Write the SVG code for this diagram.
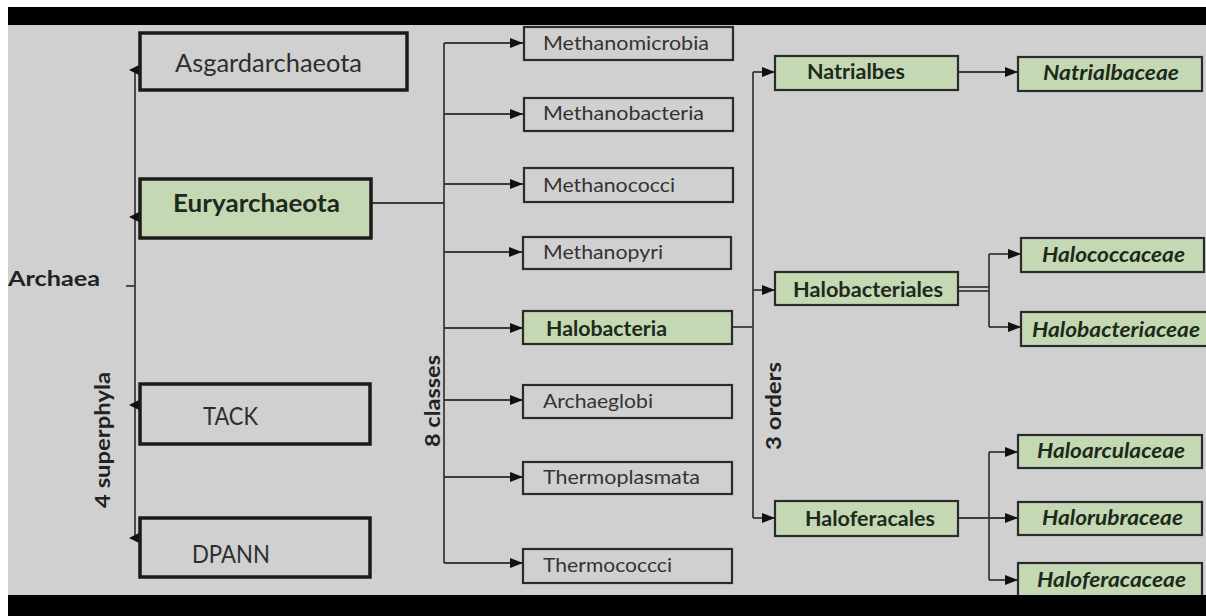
<svg xmlns="http://www.w3.org/2000/svg" width="1206" height="616" viewBox="0 0 1206 616">
<defs>
<style>
.bg{fill:#d0d0d0}
.bar{fill:#000}
.box1{fill:none;stroke:#1a1a1a;stroke-width:3.5}
.box2{fill:none;stroke:#2b2b2b;stroke-width:2.2}
.green{fill:#c5d8b4}
.ln{fill:none;stroke:#3c3c3c;stroke-width:1.8}
.ah{fill:#111}
text{font-family:Lato,"Open Sans","Liberation Sans",sans-serif}
.t1{font-size:25px;fill:#2e2e2e}
.t1b{font-size:25px;font-weight:bold;fill:#1d2a1b}
.t2{font-size:20px;fill:#333}
.t2b{font-size:20px;font-weight:bold;fill:#1d2a1b}
.t3{font-size:20px;font-weight:bold;font-style:italic;fill:#1d2a1b}
.lab{font-size:21px;font-weight:bold;fill:#222}
</style>
<marker id="arr" markerUnits="userSpaceOnUse" markerWidth="13" markerHeight="10" refX="13" refY="5" orient="auto">
<path d="M0,0 L13,5 L0,10 z" fill="#111"/>
</marker>
</defs>
<rect x="0" y="0" width="1206" height="616" fill="#ffffff"/>
<rect class="bg" x="8" y="25" width="1198" height="570"/>

<g id="connectors">
<line class="ln" x1="135" y1="70" x2="135" y2="538"/>
<line class="ln" x1="126" y1="286" x2="135" y2="286"/>
<polygon class="ah" points="129,70 139,65 139,75"/>
<polygon class="ah" points="129,217 139,212 139,222"/>
<polygon class="ah" points="129,405 139,400 139,410"/>
<polygon class="ah" points="129,538 139,533 139,543"/>
<line class="ln" x1="371" y1="203" x2="444" y2="203"/>
<line class="ln" x1="444" y1="43" x2="444" y2="563"/>
<line class="ln" x1="444" y1="43" x2="523" y2="43" marker-end="url(#arr)"/>
<line class="ln" x1="444" y1="114" x2="523" y2="114" marker-end="url(#arr)"/>
<line class="ln" x1="444" y1="184" x2="523" y2="184" marker-end="url(#arr)"/>
<line class="ln" x1="444" y1="252" x2="522" y2="252" marker-end="url(#arr)"/>
<line class="ln" x1="444" y1="328" x2="523" y2="328" marker-end="url(#arr)"/>
<line class="ln" x1="444" y1="400" x2="523" y2="400" marker-end="url(#arr)"/>
<line class="ln" x1="444" y1="477" x2="523" y2="477" marker-end="url(#arr)"/>
<line class="ln" x1="444" y1="563" x2="523" y2="563" marker-end="url(#arr)"/>
<line class="ln" x1="732" y1="327" x2="753" y2="327"/>
<line class="ln" x1="753" y1="72" x2="753" y2="518"/>
<line class="ln" x1="753" y1="72" x2="775" y2="72" marker-end="url(#arr)"/>
<line class="ln" x1="753" y1="290" x2="775" y2="290" marker-end="url(#arr)"/>
<line class="ln" x1="753" y1="518" x2="775" y2="518" marker-end="url(#arr)"/>
<line class="ln" x1="958" y1="72" x2="1018" y2="72" marker-end="url(#arr)"/>
<line class="ln" x1="958" y1="287" x2="989" y2="287"/>
<line class="ln" x1="958" y1="291" x2="989" y2="291"/>
<line class="ln" x1="989" y1="254" x2="989" y2="327"/>
<line class="ln" x1="989" y1="254" x2="1021" y2="254" marker-end="url(#arr)"/>
<line class="ln" x1="989" y1="327" x2="1021" y2="327" marker-end="url(#arr)"/>
<line class="ln" x1="958" y1="518" x2="1018" y2="518" marker-end="url(#arr)"/>
<line class="ln" x1="989" y1="452" x2="989" y2="580"/>
<line class="ln" x1="989" y1="452" x2="1018" y2="452" marker-end="url(#arr)"/>
<line class="ln" x1="989" y1="580" x2="1018" y2="580" marker-end="url(#arr)"/>
</g>

<g id="labels">
<text class="lab" x="8" y="286" textLength="92" lengthAdjust="spacingAndGlyphs">Archaea</text>
<text class="lab" transform="translate(110,440) rotate(-90)" text-anchor="middle" textLength="136" lengthAdjust="spacingAndGlyphs">4 superphyla</text>
<text class="lab" transform="translate(440,401) rotate(-90)" text-anchor="middle" textLength="92" lengthAdjust="spacingAndGlyphs">8 classes</text>
<text class="lab" transform="translate(781,406) rotate(-90)" text-anchor="middle" textLength="88" lengthAdjust="spacingAndGlyphs">3 orders</text>
</g>

<g id="n-asgard"><rect class="box1" x="140" y="33" width="267" height="57"/><text class="t1" x="175" y="72" textLength="187" lengthAdjust="spacingAndGlyphs">Asgardarchaeota</text></g>
<g id="n-eury"><rect class="green" x="140" y="179" width="231" height="59"/><rect class="box1" x="140" y="179" width="231" height="59"/><text class="t1b" x="173" y="212" textLength="167" lengthAdjust="spacingAndGlyphs">Euryarchaeota</text></g>
<g id="n-tack"><rect class="box1" x="140" y="384" width="230" height="60"/><text class="t1" x="203" y="425" textLength="55" lengthAdjust="spacingAndGlyphs">TACK</text></g>
<g id="n-dpann"><rect class="box1" x="140" y="518" width="230" height="59"/><text class="t1" x="192" y="563" textLength="78" lengthAdjust="spacingAndGlyphs">DPANN</text></g>

<g id="n-methanomicrobia"><rect class="box2" x="524" y="27" width="209" height="33"/><text class="t2" x="543" y="50" textLength="166" lengthAdjust="spacingAndGlyphs">Methanomicrobia</text></g>
<g id="n-methanobacteria"><rect class="box2" x="524" y="98" width="209" height="33"/><text class="t2" x="543" y="120" textLength="161" lengthAdjust="spacingAndGlyphs">Methanobacteria</text></g>
<g id="n-methanococci"><rect class="box2" x="524" y="168" width="209" height="34"/><text class="t2" x="543" y="192" textLength="132" lengthAdjust="spacingAndGlyphs">Methanococci</text></g>
<g id="n-methanopyri"><rect class="box2" x="523" y="237" width="208" height="32"/><text class="t2" x="543" y="259" textLength="120" lengthAdjust="spacingAndGlyphs">Methanopyri</text></g>
<g id="n-halobacteria"><rect class="green" x="523" y="311" width="209" height="33"/><rect class="box2" x="523" y="311" width="209" height="33"/><text class="t2b" x="546" y="336" textLength="121" lengthAdjust="spacingAndGlyphs">Halobacteria</text></g>
<g id="n-archaeglobi"><rect class="box2" x="523" y="385" width="209" height="33"/><text class="t2" x="543" y="408" textLength="110" lengthAdjust="spacingAndGlyphs">Archaeglobi</text></g>
<g id="n-thermoplasmata"><rect class="box2" x="523" y="462" width="209" height="32"/><text class="t2" x="543" y="484" textLength="157" lengthAdjust="spacingAndGlyphs">Thermoplasmata</text></g>
<g id="n-thermococcci"><rect class="box2" x="523" y="549" width="209" height="34"/><text class="t2" x="543" y="572" textLength="129" lengthAdjust="spacingAndGlyphs">Thermococcci</text></g>

<g id="n-natrialbes"><rect class="green" x="775" y="56" width="183" height="34"/><rect class="box2" x="775" y="56" width="183" height="34"/><text class="t2b" x="807" y="79" textLength="98" lengthAdjust="spacingAndGlyphs">Natrialbes</text></g>
<g id="n-halobacteriales"><rect class="green" x="775" y="272" width="183" height="33"/><rect class="box2" x="775" y="272" width="183" height="33"/><text class="t2b" x="793" y="297" textLength="150" lengthAdjust="spacingAndGlyphs">Halobacteriales</text></g>
<g id="n-haloferacales"><rect class="green" x="775" y="501" width="183" height="35"/><rect class="box2" x="775" y="501" width="183" height="35"/><text class="t2b" x="805" y="526" textLength="130" lengthAdjust="spacingAndGlyphs">Haloferacales</text></g>

<g id="n-natrialbaceae"><rect class="green" x="1018" y="57" width="184" height="34"/><rect class="box2" x="1018" y="57" width="184" height="34"/><text class="t3" x="1043" y="80" textLength="136" lengthAdjust="spacingAndGlyphs">Natrialbaceae</text></g>
<g id="n-halococcaceae"><rect class="green" x="1021" y="238" width="183" height="34"/><rect class="box2" x="1021" y="238" width="183" height="34"/><text class="t3" x="1042" y="262" textLength="143" lengthAdjust="spacingAndGlyphs">Halococcaceae</text></g>
<g id="n-halobacteriaceae"><rect class="green" x="1021" y="312" width="192" height="34"/><rect class="box2" x="1021" y="312" width="192" height="34"/><text class="t3" x="1032" y="337" textLength="168" lengthAdjust="spacingAndGlyphs">Halobacteriaceae</text></g>
<g id="n-haloarculaceae"><rect class="green" x="1018" y="435" width="184" height="33"/><rect class="box2" x="1018" y="435" width="184" height="33"/><text class="t3" x="1037" y="458" textLength="148" lengthAdjust="spacingAndGlyphs">Haloarculaceae</text></g>
<g id="n-halorubraceae"><rect class="green" x="1018" y="502" width="184" height="33"/><rect class="box2" x="1018" y="502" width="184" height="33"/><text class="t3" x="1042" y="525" textLength="141" lengthAdjust="spacingAndGlyphs">Halorubraceae</text></g>
<g id="n-haloferacaceae"><rect class="green" x="1018" y="563" width="184" height="38"/><rect class="box2" x="1018" y="563" width="184" height="38"/><text class="t3" x="1037" y="587" textLength="149" lengthAdjust="spacingAndGlyphs">Haloferacaceae</text></g>

<rect class="bar" x="8" y="7" width="1198" height="18"/>
<rect class="bar" x="8" y="595" width="1198" height="21"/>
</svg>
